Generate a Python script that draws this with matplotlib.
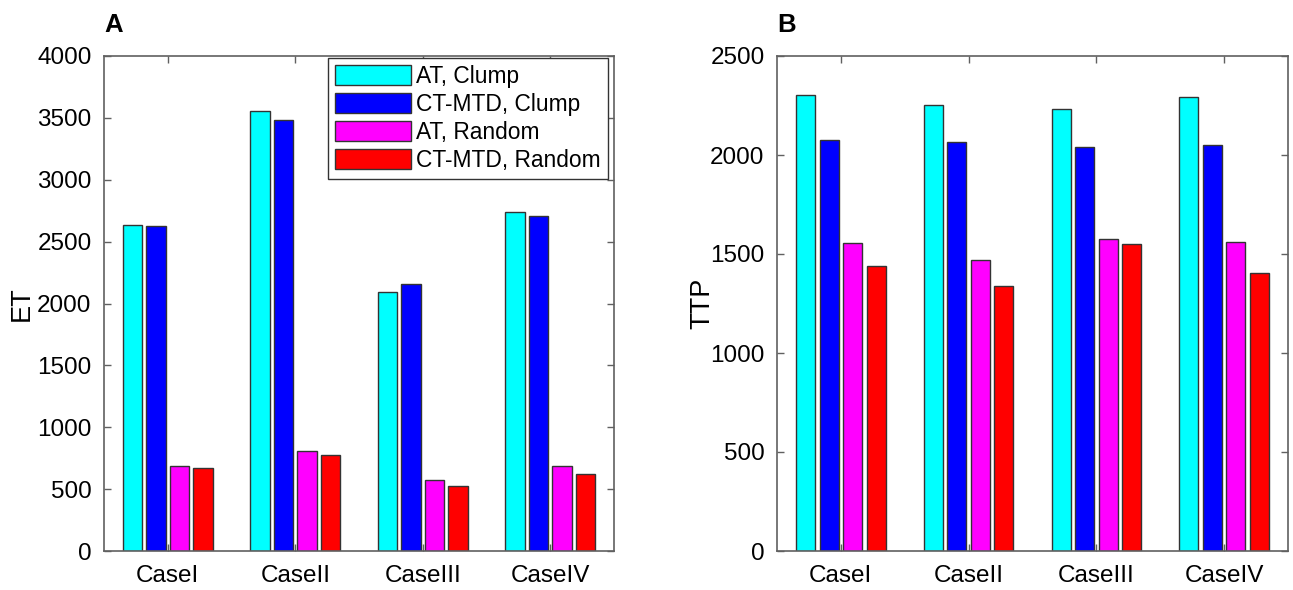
import matplotlib
matplotlib.use("Agg")
import matplotlib.pyplot as plt
import numpy as np

plt.rcParams['font.family'] = ['Liberation Sans', 'DejaVu Sans']

categories = ["CaseI", "CaseII", "CaseIII", "CaseIV"]
series_names = ["AT, Clump", "CT-MTD, Clump", "AT, Random", "CT-MTD, Random"]
colors = ["#00FFFF", "#0000FF", "#FF00FF", "#FF0000"]

et_at_clump = [2632, 3552, 2095, 2739]
et_ct_clump = [2628, 3484, 2154, 2707]
et_at_random = [687, 808, 571, 687]
et_ct_random = [670, 775, 525, 621]

ttp_at_clump = [2301, 2254, 2231, 2295]
ttp_ct_clump = [2077, 2064, 2039, 2049]
ttp_at_random = [1556, 1471, 1577, 1562]
ttp_ct_random = [1439, 1340, 1550, 1402]

et_series = [et_at_clump, et_ct_clump, et_at_random, et_ct_random]
ttp_series = [ttp_at_clump, ttp_ct_clump, ttp_at_random, ttp_ct_random]

W, H = 1293, 590
fig = plt.figure(figsize=(W / 100, H / 100), dpi=100)
bottom = (H - 551) / H
height = 495 / H
axA = fig.add_axes([104 / W, bottom, 510 / W, height])
axB = fig.add_axes([777 / W, bottom, 511 / W, height])

x = np.arange(1, len(categories) + 1)
pitch = 0.184
width = 0.15
axis_color = "#606060"


def draw(ax, series, ylim, yticks, ylabel, letter, label_x):
    for i, (vals, c, name) in enumerate(zip(series, colors, series_names)):
        ax.bar(x + (i - 1.5) * pitch, vals, width=width, color=c,
               edgecolor="#333333", linewidth=1.0, label=name, zorder=2)
    ax.set_xlim(0.5, 4.5)
    ax.set_ylim(*ylim)
    ax.set_yticks(yticks)
    ax.set_xticks(x)
    ax.set_xticklabels(categories)
    ax.tick_params(direction='in', top=True, right=True, length=5,
                   color=axis_color, width=1.0, labelsize=17.5)
    ax.tick_params(axis='y', pad=9)
    ax.tick_params(axis='x', pad=10)
    for s in ax.spines.values():
        s.set_color(axis_color)
        s.set_linewidth(1.2)
    ax.set_ylabel(ylabel, fontsize=19.5)
    ax.yaxis.set_label_coords(label_x, 0.5)
    ax.text(0.0, 1.048, letter, transform=ax.transAxes, fontsize=18.5,
            fontweight='bold', ha='left', va='baseline')


draw(axA, et_series, (0, 4000), np.arange(0, 4001, 500), "ET", "A", -0.136)
draw(axB, ttp_series, (0, 2500), np.arange(0, 2501, 500), "TTP", "B", -0.12)

leg = axA.legend(loc='upper right', bbox_to_anchor=(0.988, 0.996), fontsize=16.4,
                 handlelength=3.33, handleheight=1.0, handletextpad=0.25,
                 labelspacing=0.22, borderpad=0.3, borderaxespad=0.0,
                 fancybox=False, frameon=True, framealpha=1.0)
leg.get_frame().set_edgecolor("#333333")
leg.get_frame().set_linewidth(1.0)
for p in leg.get_patches():
    p.set_edgecolor("#333333")

fig.savefig("out.png", dpi=100)
